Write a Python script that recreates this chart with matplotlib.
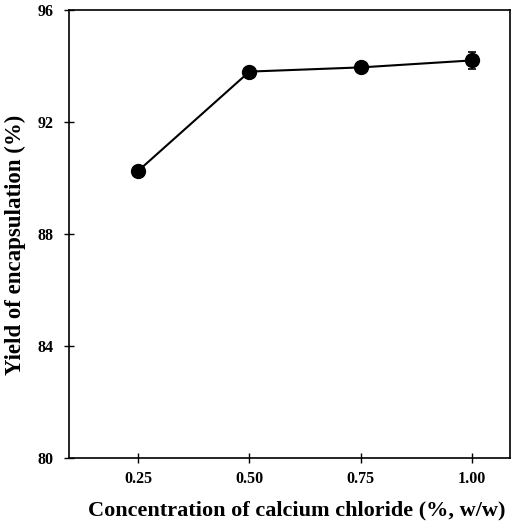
import numpy as np
import matplotlib
matplotlib.use('Agg')
from matplotlib import pyplot as plt

conc = [0.25, 0.50, 0.75, 1.00]
yield_pct = [90.25, 93.8, 93.95, 94.2]
yield_err = [0.08, 0.1, 0.18, 0.3]
x_ticks = [0.25, 0.50, 0.75, 1.00]
x_labels = ['0.25', '0.50', '0.75', '1.00']
y_ticks = [80, 84, 88, 92, 96]

plt.rcParams['font.family'] = ['Liberation Serif', 'DejaVu Serif']
plt.rcParams['font.weight'] = 'bold'

fig = plt.figure(figsize=(5.14, 5.25), dpi=100)
ax = fig.add_axes([69/514, 1-458/525, (510-69)/514, (458-10)/525])

ax.errorbar(conc, yield_pct, yerr=yield_err, color='black', marker='o',
            markersize=10, linewidth=1.5, capsize=3, elinewidth=1.2, capthick=1.2)

ax.set_xlim(0.095, 1.085)
ax.set_ylim(80, 96)
ax.set_xticks(x_ticks)
ax.set_xticklabels(x_labels)
ax.set_yticks(y_ticks)
ax.tick_params(direction='inout', length=7, width=1, labelsize=11.5)
ax.tick_params(axis='x', pad=6)
ax.tick_params(axis='y', pad=7.5)
for s in ax.spines.values():
    s.set_linewidth(1.2)

ax.set_xlabel('Concentration of calcium chloride (%, w/w)', fontsize=16, fontweight='bold',
              va='center')
ax.set_ylabel('Yield of encapsulation (%)', fontsize=16.5, fontweight='bold', va='center')
ax.xaxis.set_label_coords((297 - 69) / 441, (458 - 510) / 448)
ax.yaxis.set_label_coords((15 - 69) / 441, (458 - 245) / 448)

fig.savefig('out.png', dpi=100)
